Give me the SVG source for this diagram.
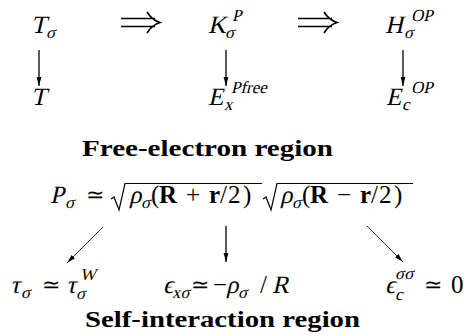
<svg xmlns="http://www.w3.org/2000/svg" width="464" height="336" viewBox="0 0 464 336">
<style>
.t{font-family:'Liberation Serif';fill:#000;font-size:25px}
.s{font-family:'Liberation Serif';fill:#000;font-size:17px}
.b{font-family:'Liberation Serif';fill:#000;font-size:25px;font-weight:bold}
.h{font-family:'Liberation Serif';fill:#000;font-size:24px;font-weight:bold}
.rel{font-family:'Liberation Serif';fill:#000;font-size:22px}
.ln{stroke:#000;fill:none}
</style>
<defs>
<marker id="ah" markerUnits="userSpaceOnUse" markerWidth="10" markerHeight="6" refX="9" refY="3" orient="auto">
<path d="M0,0.6 L9,3 L0,5.4 Z" fill="#000"/>
</marker>
</defs>

<g id="connectors" class="ln">
<path stroke-width="1.6" d="M121,18.5 H155 M121,26.5 H155 M147,12 Q152,20 160,22.5 Q152,25 147,33"/>
<path stroke-width="1.6" d="M298,18.5 H332 M298,26.5 H332 M324,12 Q329,20 337,22.5 Q329,25 324,33"/>
<line stroke-width="1.3" x1="39" y1="50" x2="39" y2="86" marker-end="url(#ah)"/>
<line stroke-width="1.3" x1="226" y1="50" x2="226" y2="86" marker-end="url(#ah)"/>
<line stroke-width="1.3" x1="403" y1="50" x2="403" y2="86" marker-end="url(#ah)"/>
<line stroke-width="0.8" x1="103" y1="227" x2="67" y2="263" marker-end="url(#ah)"/>
<line stroke-width="1.3" x1="226" y1="226" x2="226" y2="262" marker-end="url(#ah)"/>
<line stroke-width="0.8" x1="367" y1="226" x2="403" y2="262" marker-end="url(#ah)"/>
</g>

<g id="T-sigma"><text class="t" transform="translate(31,33) skewX(-13)">T</text><text class="s" transform="translate(46,38) skewX(-13)">σ</text></g>
<g id="K-sigma-P"><text class="t" transform="translate(208,33) skewX(-13)">K</text><text class="s" transform="translate(225,38) skewX(-13)">σ</text><text class="s" transform="translate(232,21) skewX(-13)">P</text></g>
<g id="H-sigma-OP"><text class="t" transform="translate(385,33) skewX(-13)">H</text><text class="s" transform="translate(404,38) skewX(-13)">σ</text><text class="s" transform="translate(411,21) skewX(-13)">OP</text></g>
<g id="T"><text class="t" transform="translate(31,105) skewX(-13)">T</text></g>
<g id="E-x-Pfree"><text class="t" transform="translate(208,105) skewX(-13)">E</text><text class="s" transform="translate(224,110) skewX(-13)">x</text><text class="s" transform="translate(231,93) skewX(-13)">Pfree</text></g>
<g id="E-c-OP"><text class="t" transform="translate(386,105) skewX(-13)">E</text><text class="s" transform="translate(402,110) skewX(-13)">c</text><text class="s" transform="translate(411,93) skewX(-13)">OP</text></g>

<g id="free-electron-label"><text class="h" x="82" y="156" textLength="251" lengthAdjust="spacingAndGlyphs">Free-electron region</text></g>

<g id="P-sigma">
<text class="t" transform="translate(50,203) skewX(-13)">P</text><text class="s" transform="translate(65,208) skewX(-13)">σ</text>
<text class="rel" x="86" y="202">≃</text>
<path class="ln" stroke-width="1.2" d="M111,199 L114,197 L119,210 L125,183.5 H262"/>
<text class="t" transform="translate(129,203) skewX(-13)">ρ</text><text class="s" transform="translate(141,208) skewX(-13)">σ</text>
<text class="t" x="151" y="203">(</text><text class="b" x="159" y="203">R</text><text class="t" x="186" y="203">+</text><text class="b" x="209" y="203">r</text><text class="t" x="220" y="203">/</text><text class="t" x="228" y="203">2</text><text class="t" x="243" y="203">)</text>
<path class="ln" stroke-width="1.2" d="M263,199 L266,197 L271,210 L277,183.5 H413"/>
<text class="t" transform="translate(280,203) skewX(-13)">ρ</text><text class="s" transform="translate(292,208) skewX(-13)">σ</text>
<text class="t" x="302" y="203">(</text><text class="b" x="310" y="203">R</text><text class="t" x="337" y="203">−</text><text class="b" x="360" y="203">r</text><text class="t" x="371" y="203">/</text><text class="t" x="379" y="203">2</text><text class="t" x="394" y="203">)</text>
</g>

<g id="tau"><text class="t" transform="translate(10,293) skewX(-13)">τ</text><text class="s" transform="translate(21,298) skewX(-13)">σ</text><text class="rel" x="42" y="292">≃</text><text class="t" transform="translate(66,293) skewX(-13)">τ</text><text class="s" transform="translate(76,299) skewX(-13)">σ</text><text class="s" transform="translate(80,280) skewX(-13)">W</text></g>
<g id="eps-x"><text class="t" transform="translate(163,293) skewX(-13)">ϵ</text><text class="s" transform="translate(172,298) skewX(-13)">xσ</text><text class="rel" x="191" y="292">≃</text><text class="t" x="213" y="293">−</text><text class="t" transform="translate(226,293) skewX(-13)">ρ</text><text class="s" transform="translate(238,298) skewX(-13)">σ</text><text class="t" x="260" y="293">/</text><text class="t" transform="translate(272,293) skewX(-13)">R</text></g>
<g id="eps-c"><text class="t" transform="translate(385,293) skewX(-13)">ϵ</text><text class="s" transform="translate(395,300) skewX(-13)">c</text><text class="s" transform="translate(395,279) skewX(-13)">σσ</text><text class="rel" x="424" y="292">≃</text><text class="t" x="451" y="293">0</text></g>

<g id="self-interaction-label"><text class="h" x="85" y="327" textLength="275" lengthAdjust="spacingAndGlyphs">Self-interaction region</text></g>
</svg>
